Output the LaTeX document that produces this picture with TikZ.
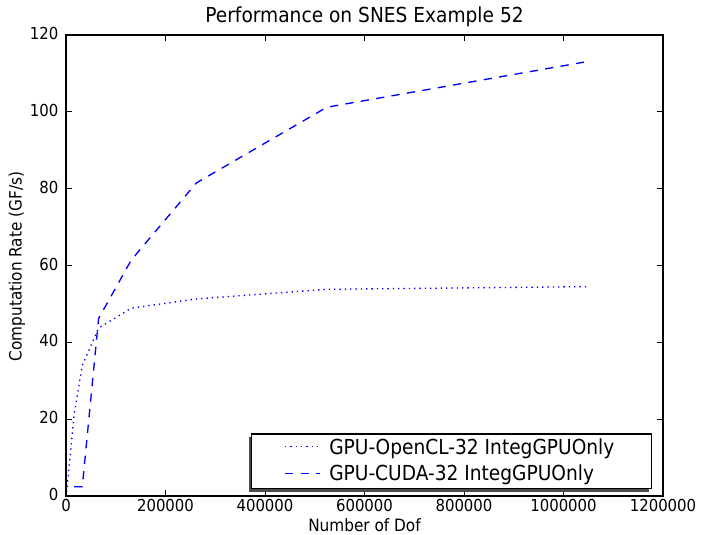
\documentclass[tikz,border=0pt]{standalone}
\usepackage{fontspec}
\setmainfont{DejaVu Sans}[FakeStretch=0.9]
\begin{document}
\begin{tikzpicture}[x=0.75pt,y=-0.75pt,
  axisline/.style={line width=1.1pt, black},
  tickline/.style={line width=0.6pt, black},
  ticklab/.style={font=\fontsize{12.4pt}{14pt}\selectfont, inner sep=0pt},
  axlab/.style={font=\fontsize{12.75pt}{15pt}\selectfont, inner sep=0pt},
  titlelab/.style={font=\fontsize{15.5pt}{18pt}\selectfont, inner sep=0pt},
  leglab/.style={font=\fontsize{15.5pt}{18pt}\selectfont, inner sep=0pt, anchor=base west},
  oclline/.style={draw=blue, line width=1pt, dash pattern=on 1pt off 3pt},
  cudaline/.style={draw=blue, line width=1pt, dash pattern=on 6.2pt off 5.5pt}
]
\useasboundingbox (0,0) rectangle (701,535);
\fill[white] (0,0) rectangle (701,535);

% ticks and tick labels
\foreach \i/\lab in {0/0,1/200000,2/400000,3/600000,4/800000,5/1000000,6/1200000}{
  \pgfmathsetmacro\xx{66+99.5*\i}
  \draw[tickline] (\xx,496) -- (\xx,490);
  \draw[tickline] (\xx,35) -- (\xx,41);
  \node[ticklab, anchor=base] (xt\i) at (\xx,511.7) {\lab};
}
\foreach \i/\lab in {0/0,1/20,2/40,3/60,4/80,5/100,6/120}{
  \pgfmathsetmacro\yy{496-76.8333*\i}
  \draw[tickline] (66,\yy) -- (72,\yy);
  \draw[tickline] (663,\yy) -- (657,\yy);
  \node[ticklab, anchor=east] (yt\i) at (58.5,\yy-1.5) {\lab};
}

% data
\begin{scope}[shift={(66,496)}, x=0.373125pt, y=2.88125pt]
  \draw[oclline] plot coordinates {(1.024,1) (4.096,4.7) (8.192,10.1) (16.384,21.3) (32.768,34) (65.536,43.7) (131.072,48.9) (262.144,51.3) (524.288,53.8) (1048.576,54.5)};
  \draw[cudaline] plot coordinates {(16.384,2.4) (32.768,2.4) (65.536,46.2) (131.072,61.4) (262.144,81.5) (524.288,101.2) (1048.576,113.1)};
\end{scope}

% axes frame
\draw[axisline] (66,35) rectangle (663,496);

% legend
\fill[black!70] (248.5,437.3) rectangle (648.5,491.5);
\draw[line width=0.8pt, black, fill=white] (251.7,434) rectangle (651.7,488.3);
\coordinate (l1a) at (285,446.7);
\coordinate (l1b) at (320,446.7);
\coordinate (l2a) at (285,473.3);
\coordinate (l2b) at (320,473.3);
\draw[oclline] (l1a) -- (l1b);
\draw[cudaline] (l2a) -- (l2b);
\node[leglab] (leg1) at (329,454) {GPU-OpenCL-32 IntegGPUOnly};
\node[leglab] (leg2) at (329,480.7) {GPU-CUDA-32 IntegGPUOnly};

% labels
\node[titlelab, anchor=base] (title) at (364.5,23) {Performance on SNES Example 52};
\node[axlab, anchor=base] (xlab) at (364.5,531) {Number of Dof};
\node[axlab, anchor=base, rotate=90] (ylab) at (21.5,266.5) {Computation Rate (GF/s)};
\end{tikzpicture}
\end{document}
